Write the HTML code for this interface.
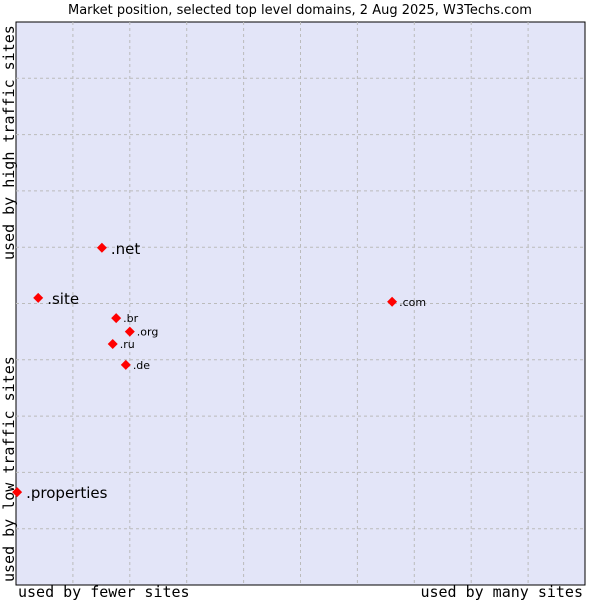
<!DOCTYPE html>
<html><head><meta charset="utf-8"><style>
body{margin:0;background:#fff;width:600px;height:600px;overflow:hidden}
svg{display:block;font-family:"DejaVu Sans","Liberation Sans",sans-serif}
</style></head><body>
<svg id="chart" width="600" height="600">
<text x="300" y="14" text-anchor="middle" font-size="13" fill="#000">Market position, selected top level domains, 2 Aug 2025, W3Techs.com</text>
<rect x="16" y="22" width="569" height="563" fill="#e3e5f8" stroke="#000" stroke-width="1"/>
<g id="grid"></g>
<g id="points"></g>
<text x="18" y="597" font-family="DejaVu Sans Mono,Liberation Mono,monospace" font-size="15">used by fewer sites</text>
<text x="583" y="597" text-anchor="end" font-family="DejaVu Sans Mono,Liberation Mono,monospace" font-size="15">used by many sites</text>
<text transform="translate(14,260) rotate(-90)" font-family="DejaVu Sans Mono,Liberation Mono,monospace" font-size="15">used by high traffic sites</text>
<text transform="translate(14,582) rotate(-90)" font-family="DejaVu Sans Mono,Liberation Mono,monospace" font-size="15">used by low traffic sites</text>
</svg>
<script>
const domains=[".net",".site",".com",".br",".org",".ru",".de",".properties"];
const xValues=[15.1,3.9,66.1,17.6,20.0,17.0,19.3,0.2];
const yValues=[59.9,51.0,50.3,47.4,45.0,42.8,39.1,16.5];
const bigLabel=[true,true,false,false,false,false,false,true];
const L=16,T=22,W=569,H=563;
function sx(v){return L+v/100*W;}
function sy(v){return T+H-v/100*H;}
const NS="http://www.w3.org/2000/svg";
const grid=document.getElementById('grid');
for(let i=1;i<10;i++){
  const v=document.createElementNS(NS,'line');
  
  
  v.setAttribute('x1',sx(i*10));v.setAttribute('x2',sx(i*10));v.setAttribute('y1',T);v.setAttribute('y2',T+H);
  v.setAttribute('stroke','#bbbbbb');v.setAttribute('stroke-dasharray','3,3');grid.appendChild(v);
  const h=document.createElementNS(NS,'line');
  
  
  h.setAttribute('y1',sy(i*10));h.setAttribute('y2',sy(i*10));h.setAttribute('x1',L);h.setAttribute('x2',L+W);
  h.setAttribute('stroke','#bbbbbb');h.setAttribute('stroke-dasharray','3,3');grid.appendChild(h);
}
const pts=document.getElementById('points');
domains.forEach((d,i)=>{
  const x=sx(xValues[i]),y=sy(yValues[i]);
  const m=document.createElementNS(NS,'path');
  
  
  m.setAttribute('d',`M${x} ${y-5}L${x+5} ${y}L${x} ${y+5}L${x-5} ${y}Z`);
  m.setAttribute('fill','#ff0000');pts.appendChild(m);
  const t=document.createElementNS(NS,'text');
  
  
  const big=bigLabel[i];
  t.setAttribute('x',x+(big?9:7));t.setAttribute('y',y+(big?6:4));
  t.setAttribute('font-size',big?15:11);t.textContent=d;pts.appendChild(t);
});
</script>
</body></html>
